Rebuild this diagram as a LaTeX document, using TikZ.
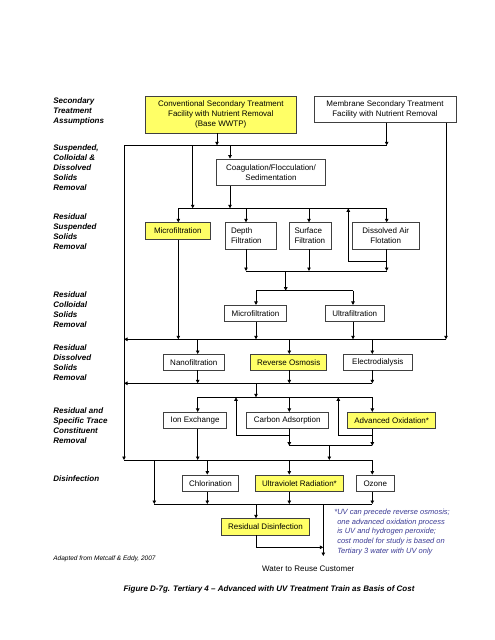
\documentclass[tikz,border=0pt]{standalone}
\usepackage{fontspec}
\setmainfont{Liberation Sans}
\usetikzlibrary{arrows.meta}
\definecolor{hiyellow}{RGB}{255,255,102}
\definecolor{notecol}{RGB}{60,60,150}
\tikzset{
  box/.style={draw=black!75, line width=0.7pt, fill=white, inner sep=1pt,
    align=center, font=\fontsize{8}{10}\selectfont},
  hibox/.style={box, fill=hiyellow},
  flow/.style={-{Triangle[length=3.5pt,width=3.5pt]}},
  lab/.style={anchor=north west, inner sep=0pt, align=left,
    font=\fontsize{8}{10}\selectfont\bfseries\itshape},
}
\begin{document}
\begin{tikzpicture}[x=1pt,y=-1pt,line width=0.75pt]
  \useasboundingbox[fill=white] (0,0) rectangle (495,640);
  % stage labels
  \node[lab] (l1) at (53,97) {Secondary\\Treatment\\Assumptions};
  \node[lab] (l2) at (53,144.7) {Suspended,\\Colloidal \&\\Dissolved\\Solids\\Removal};
  \node[lab] (l3) at (53,213) {Residual\\Suspended\\Solids\\Removal};
  \node[lab] (l4) at (53,291) {Residual\\Colloidal\\Solids\\Removal};
  \node[lab] (l5) at (53,344.7) {Residual\\Dissolved\\Solids\\Removal};
  \node[lab] (l6) at (53,407) {Residual and\\Specific Trace\\Constituent\\Removal};
  \node[lab] (l7) at (53,475.3) {Disinfection};

  % process boxes
  \node[hibox, minimum width=151.7, minimum height=36.3] (conv) at (220.8,114.8)
    {Conventional Secondary Treatment\\Facility with Nutrient Removal\\(Base WWTP)};
  \node[box, minimum width=142, minimum height=25.6] (memb) at (385,109.5)
    {Membrane Secondary Treatment\\Facility with Nutrient Removal};
  \node[box, minimum width=108.6, minimum height=26.7] (coag) at (271,172.3)
    {Coagulation/Flocculation/\\Sedimentation};
  \node[hibox, minimum width=64.3, minimum height=16.6] (mf1) at (177.8,231) {Microfiltration};
  \node[box, minimum width=51.4, minimum height=26.3, align=left, text width=40] (depth)
    at (251,235.8) {Depth\\Filtration};
  \node[box, minimum width=42, minimum height=26.3, align=left, text width=31] (surf)
    at (310,235.8) {Surface\\Filtration};
  \node[box, minimum width=67, minimum height=26.3] (daf) at (385.8,235.8) {Dissolved Air\\Flotation};
  \node[box, minimum width=62.4, minimum height=16.4] (mf2) at (255.5,313.5) {Microfiltration};
  \node[box, minimum width=59.3, minimum height=16.4] (uf) at (354.7,313.5) {Ultrafiltration};
  \node[box, minimum width=61, minimum height=15.7] (nano) at (193.8,362.2) {Nanofiltration};
  \node[hibox, minimum width=76, minimum height=15.7] (ro) at (288.7,362.2) {Reverse Osmosis};
  \node[box, minimum width=69, minimum height=15.7] (ed) at (377.8,362.2) {Electrodialysis};
  \node[box, minimum width=63.4, minimum height=16] (ix) at (195,420.3) {Ion Exchange};
  \node[box, minimum width=82.7, minimum height=16] (ca) at (287.3,420.3) {Carbon Adsorption};
  \node[hibox, minimum width=88, minimum height=16] (aox) at (391.7,420.3) {Advanced Oxidation*};
  \node[box, minimum width=55.6, minimum height=16.7] (cl) at (210.5,483.3) {Chlorination};
  \node[hibox, minimum width=87.6, minimum height=16.7] (uv) at (299.5,483.3) {Ultraviolet Radiation*};
  \node[box, minimum width=37.3, minimum height=16.7] (oz) at (375.3,483.3) {Ozone};
  \node[hibox, minimum width=87.6, minimum height=16.3] (resid) at (265.5,526.8) {Residual Disinfection};
  \node[font=\fontsize{8}{10}\selectfont] (cust) at (308.3,568.3) {Water to Reuse Customer};

  % notes
  \node[anchor=north west, inner sep=0pt, align=left, text=notecol,
    font=\fontsize{7.5}{9.7}\selectfont\itshape] (note) at (334,508.7)
    {*UV can precede reverse osmosis;\\\hspace*{2.9pt}one advanced oxidation process\\
     \hspace*{2.9pt}is UV and hydrogen peroxide;\\\hspace*{2.9pt}cost model for study is based on\\
     \hspace*{2.9pt}Tertiary 3 water with UV only};
  \node[anchor=west, inner sep=0pt, font=\fontsize{6.5}{8}\selectfont\itshape] (src)
    at (53,559.3) {Adapted from Metcalf \& Eddy, 2007};
  \node[font=\fontsize{8}{10}\selectfont\bfseries\itshape] (cap) at (269,589.3)
    {Figure D-7g. Tertiary 4 -- Advanced with UV Treatment Train as Basis of Cost};

  % columns and buses
  \foreach \n/\v in {124/124,154/154.3,178/178.3,193/192.7,198/197.7,207/207.3,217/217,
      230/230,236/236,246/246,256/256,286/285.7,289/289.3,309/309,323/323.3,329/329.3,
      338/338.3,348/348.3,353/353,372/372.3,387/386.7,446/446}
    \coordinate (x\n) at (\v,0);
  \foreach \n/\v in {145/145.3,208/208.3,262/261.7,271/271,291/290.7,339/339.3,383/383.3,
      397/397.3,436/435.7,446/445.7,460/460,504/504,547/547.3,556/556}
    \coordinate (y\n) at (0,\v);

  % secondary effluent
  \draw (x124 |- y145) -- (x387 |- y145);
  \draw[flow] (x217 |- conv.south) -- (x217 |- y145);
  \draw[flow] (x387 |- memb.south) -- (x387 |- y145);
  \draw[flow] (x446 |- memb.south) -- (x446 |- y339);
  \draw[flow] (x124 |- y145) -- (x124 |- y460);
  \draw[flow] (x230 |- y145) -- (x230 |- coag.north);
  \draw[flow] (x230 |- coag.south) -- (x230 |- y208);
  \draw[flow] (x193 |- y145) -- (x193 |- y208);

  % residual suspended and colloidal solids
  \draw (x178 |- y208) -- (x387 |- y208);
  \foreach \c/\b in {178/mf1,246/depth,309/surf,387/daf}
    \draw[flow] (x\c |- y208) -- (x\c |- \b.north);
  \draw[flow] (x178 |- mf1.south) -- (x178 |- y339);
  \foreach \c/\b in {246/depth,309/surf,387/daf}
    \draw[flow] (x\c |- \b.south) -- (x\c |- y271);
  \draw[flow] (x387 |- y262) -| (x348 |- y208);
  \draw (x246 |- y271) -- (x387 |- y271);
  \draw[flow] (x286 |- y271) -- (x286 |- y291);
  \draw (x256 |- y291) -- (x353 |- y291);
  \foreach \c/\b in {256/mf2,353/uf} {
    \draw[flow] (x\c |- y291) -- (x\c |- \b.north);
    \draw[flow] (x\c |- \b.south) -- (x\c |- y339);
  }

  % dissolved solids and trace constituents
  \draw[flow] (x446 |- y339) -- (x124 |- y339);
  \foreach \c/\b in {198/nano,289/ro,372/ed} {
    \draw[flow] (x\c |- y339) -- (x\c |- \b.north);
    \draw[flow] (x\c |- \b.south) -- (x\c |- y383);
  }
  \draw[flow] (x372 |- y383) -- (x124 |- y383);
  \draw[flow] (x256 |- y383) -- (x256 |- y397);
  \draw (x198 |- y397) -- (x372 |- y397);
  \foreach \c/\b in {198/ix,289/ca,372/aox}
    \draw[flow] (x\c |- y397) -- (x\c |- \b.north);
  \draw[flow] (x198 |- ix.south) -- (x198 |- y460);
  \foreach \c/\b in {289/ca,372/aox}
    \draw[flow] (x\c |- \b.south) -- (x\c |- y446);
  \draw[flow] (x289 |- y436) -| (x236 |- y397);
  \draw[flow] (x372 |- y436) -| (x338 |- y397);
  \draw (x289 |- y446) -- (x372 |- y446);
  \draw[flow] (x329 |- y446) -- (x329 |- y460);

  % disinfection
  \draw (x124 |- y460) -- (x372 |- y460);
  \draw[flow] (x154 |- y460) -- (x154 |- y504);
  \foreach \c/\b in {207/cl,289/uv,372/oz} {
    \draw[flow] (x\c |- y460) -- (x\c |- \b.north);
    \draw[flow] (x\c |- \b.south) -- (x\c |- y504);
  }
  \draw (x154 |- y504) -- (x372 |- y504);
  \draw[flow] (x256 |- y504) -- (x256 |- resid.north);
  \draw[flow] (x256 |- resid.south) |- (x323 |- y547);
  \draw[flow] (x323 |- y504) -- (x323 |- y556);
\end{tikzpicture}
\end{document}
